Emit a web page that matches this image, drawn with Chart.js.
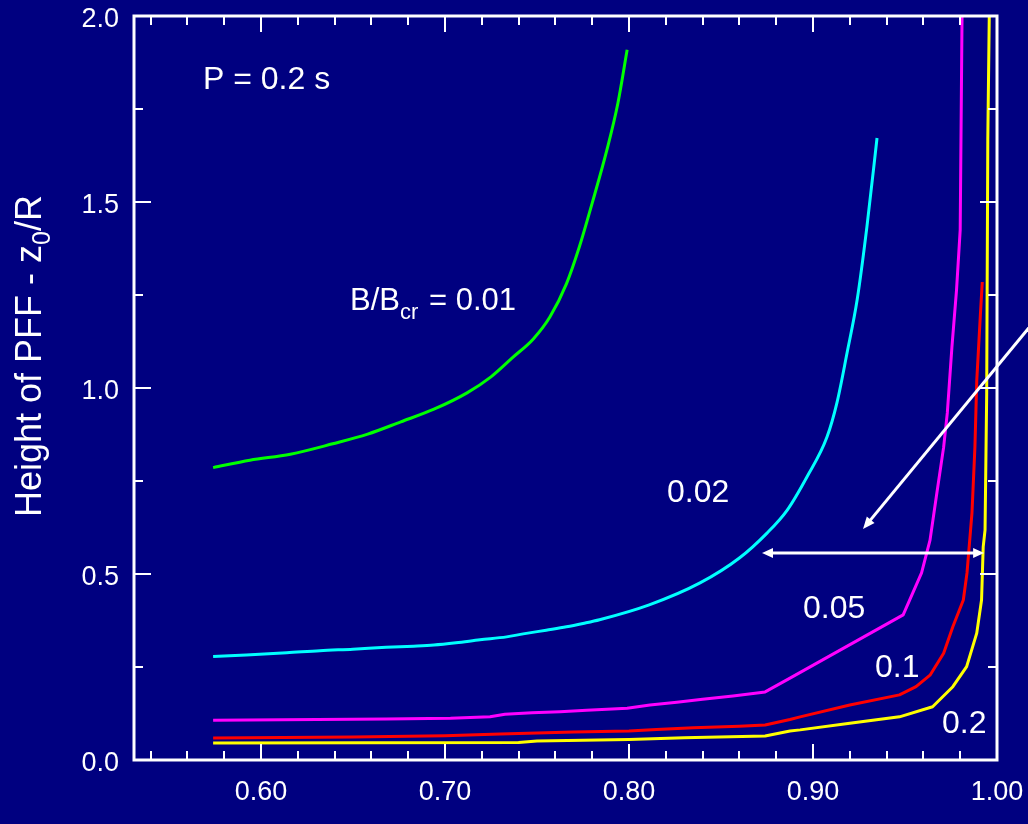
<!DOCTYPE html>
<html>
<head>
<meta charset="utf-8">
<script src="https://cdn.jsdelivr.net/npm/chart.js@4/dist/chart.umd.min.js"></script>
<style>
html,body{margin:0;padding:0;background:#000080;overflow:hidden;}
#wrap{width:1028px;height:824px;}
canvas{display:block;}
</style>
</head>
<body>
<div id="wrap"><canvas id="c" width="1028" height="824"></canvas></div>
<script>
// ---- axis ranges & ticks ----
const xRange = [0.531, 1.0];
const yRange = [0, 2.0];
const xMajorTicks = [0.60, 0.70, 0.80, 0.90, 1.00];
const xMinorTicks = [0.54, 0.56, 0.58, 0.62, 0.64, 0.66, 0.68, 0.72, 0.74, 0.76, 0.78, 0.82, 0.84, 0.86, 0.88, 0.92, 0.94, 0.96, 0.98];
const yMajorTicks = [0.0, 0.5, 1.0, 1.5, 2.0];
const yMinorTicks = [0.25, 0.75, 1.25, 1.75];

// ---- series: B/Bcr = 0.01 (green) ----
const b001X = [0.574, 0.594, 0.616, 0.639, 0.658, 0.676, 0.694, 0.712, 0.725, 0.737, 0.748, 0.757, 0.766, 0.773, 0.780, 0.788, 0.794, 0.799];
const b001Y = [0.786, 0.806, 0.822, 0.850, 0.876, 0.909, 0.943, 0.987, 1.030, 1.083, 1.132, 1.191, 1.280, 1.379, 1.497, 1.640, 1.766, 1.909];

// ---- series: B/Bcr = 0.02 (cyan) ----
const b002X = [0.574, 0.592, 0.614, 0.632, 0.650, 0.668, 0.683, 0.694, 0.706, 0.719, 0.7335, 0.7425, 0.755, 0.766, 0.775, 0.784, 0.811, 0.8386, 0.860, 0.875, 0.886, 0.8967, 0.9076, 0.913, 0.9185, 0.924, 0.9293, 0.9348];
const b002Y = [0.278, 0.282, 0.288, 0.294, 0.298, 0.303, 0.306, 0.309, 0.315, 0.323, 0.331, 0.339, 0.349, 0.358, 0.367, 0.377, 0.417, 0.476, 0.543, 0.610, 0.672, 0.761, 0.868, 0.960, 1.094, 1.237, 1.433, 1.672];

// ---- series: B/Bcr = 0.05 (magenta) ----
const b005X = [0.574, 0.668, 0.703, 0.7245, 0.7326, 0.7473, 0.7625, 0.777, 0.799, 0.8114, 0.826, 0.840, 0.8565, 0.874, 0.8875, 0.949, 0.959, 0.9636, 0.967, 0.971, 0.973, 0.9755, 0.978, 0.980, 0.981];
const b005Y = [0.107, 0.110, 0.112, 0.116, 0.123, 0.127, 0.130, 0.134, 0.139, 0.148, 0.155, 0.163, 0.172, 0.183, 0.220, 0.390, 0.503, 0.591, 0.707, 0.841, 0.933, 1.110, 1.263, 1.425, 2.0];

// ---- series: B/Bcr = 0.1 (red) ----
const b01X = [0.574, 0.650, 0.700, 0.730, 0.770, 0.800, 0.815, 0.835, 0.860, 0.874, 0.8875, 0.893, 0.920, 0.947, 0.956, 0.9636, 0.971, 0.976, 0.9817, 0.9837, 0.9864, 0.988, 0.989, 0.991, 0.992];
const b01Y = [0.059, 0.062, 0.065, 0.070, 0.075, 0.078, 0.082, 0.087, 0.091, 0.094, 0.109, 0.116, 0.148, 0.175, 0.197, 0.228, 0.287, 0.358, 0.430, 0.503, 0.664, 0.841, 1.020, 1.200, 1.285];

// ---- series: B/Bcr = 0.2 (yellow) ----
const b02X = [0.574, 0.740, 0.750, 0.800, 0.830, 0.874, 0.8875, 0.893, 0.920, 0.947, 0.965, 0.976, 0.9835, 0.989, 0.9916, 0.9925, 0.9935, 0.9944, 0.9950, 0.9958];
const b02Y = [0.046, 0.047, 0.051, 0.055, 0.060, 0.0645, 0.078, 0.081, 0.099, 0.116, 0.143, 0.197, 0.251, 0.341, 0.430, 0.573, 0.618, 0.986, 1.667, 2.0];

const seriesNames = ['0.01', '0.02', '0.05', '0.1', '0.2'];
const seriesColors = ['#00ff00', '#00ffff', '#ff00ff', '#ff0000', '#ffff00'];
const seriesSmooth = [true, true, false, false, false];

// ---- annotations (data coordinates) ----
const labelTexts = ['0.02', '0.05', '0.1', '0.2'];
const labelX = [0.8207, 0.8946, 0.9337, 0.9701];
const labelY = [0.6935, 0.3817, 0.2231, 0.0726];
const periodText = 'P = 0.2 s';
const periodPos = [0.5685, 1.804];
const firstLabelPos = [0.6484, 1.2097];
const hArrowX = [0.8723, 0.993];
const hArrowY = 0.5565;
const dArrowTail = [1.025, 1.208];
const dArrowHead = [0.9272, 0.621];

const FONT = '"Liberation Sans", Arial, Helvetica, sans-serif';

function pts(xs, ys) { return xs.map((x, i) => ({ x: x, y: ys[i] })); }

const allX = [b001X, b002X, b005X, b01X, b02X];
const allY = [b001Y, b002Y, b005Y, b01Y, b02Y];

const datasets = seriesNames.map((n, i) => ({
  label: 'B/Bcr = ' + n,
  data: pts(allX[i], allY[i]),
  borderColor: seriesColors[i],
  backgroundColor: seriesColors[i],
  borderWidth: 3,
  pointRadius: 0,
  showLine: true,
  tension: 0,
  cubicInterpolationMode: seriesSmooth[i] ? 'monotone' : 'default',
  borderJoinStyle: 'round',
  fill: false
}));

function arrowHead(ctx, x1, y1, x2, y2, len, half) {
  const a = Math.atan2(y2 - y1, x2 - x1);
  ctx.beginPath();
  ctx.moveTo(x2, y2);
  ctx.lineTo(x2 - len * Math.cos(a) + half * Math.sin(a), y2 - len * Math.sin(a) - half * Math.cos(a));
  ctx.lineTo(x2 - len * Math.cos(a) - half * Math.sin(a), y2 - len * Math.sin(a) + half * Math.cos(a));
  ctx.closePath();
  ctx.fill();
}

const framePlugin = {
  id: 'frame',
  afterLayout(chart) {
    const ys = chart.scales.y;
    if (!ys._shifted) {
      const orig = ys.drawLabels;
      ys.drawLabels = function (area) {
        const c = this.ctx; c.save(); c.translate(0, 4); orig.call(this, area); c.restore();
      };
      ys._shifted = true;
    }
  },
  afterDraw(chart) {
    const ctx = chart.ctx, a = chart.chartArea, xs = chart.scales.x, ys = chart.scales.y;
    ctx.save();
    ctx.strokeStyle = '#ffffff';
    ctx.fillStyle = '#ffffff';
    // ticks
    ctx.lineWidth = 2;
    ctx.beginPath();
    const tick = (v, len, horiz) => {
      if (horiz) {
        const p = Math.round(xs.getPixelForValue(v));
        ctx.moveTo(p, a.bottom); ctx.lineTo(p, a.bottom - len);
        ctx.moveTo(p, a.top); ctx.lineTo(p, a.top + len);
      } else {
        const p = Math.round(ys.getPixelForValue(v));
        ctx.moveTo(a.left, p); ctx.lineTo(a.left + len, p);
        ctx.moveTo(a.right, p); ctx.lineTo(a.right - len, p);
      }
    };
    xMajorTicks.forEach(v => tick(v, 16, true));
    xMinorTicks.forEach(v => tick(v, 9, true));
    yMajorTicks.forEach(v => tick(v, 17, false));
    yMinorTicks.forEach(v => tick(v, 9, false));
    ctx.stroke();
    // frame
    ctx.lineWidth = 3;
    ctx.strokeRect(a.left, a.top, a.right - a.left, a.bottom - a.top);

    // arrows
    ctx.lineWidth = 3;
    const hx1 = xs.getPixelForValue(hArrowX[0]), hx2 = xs.getPixelForValue(hArrowX[1]);
    const hy = ys.getPixelForValue(hArrowY);
    ctx.beginPath(); ctx.moveTo(hx1 + 6, hy); ctx.lineTo(hx2 - 6, hy); ctx.stroke();
    arrowHead(ctx, hx2, hy, hx1, hy, 11, 5);
    arrowHead(ctx, hx1, hy, hx2, hy, 11, 5);
    const tx = xs.getPixelForValue(dArrowTail[0]), ty = ys.getPixelForValue(dArrowTail[1]);
    const dx = xs.getPixelForValue(dArrowHead[0]), dy = ys.getPixelForValue(dArrowHead[1]);
    const ang = Math.atan2(dy - ty, dx - tx);
    ctx.beginPath(); ctx.moveTo(tx, ty); ctx.lineTo(dx - 6 * Math.cos(ang), dy - 6 * Math.sin(ang)); ctx.stroke();
    arrowHead(ctx, tx, ty, dx, dy, 12, 5);

    // texts
    ctx.textBaseline = 'alphabetic';
    ctx.textAlign = 'left';
    ctx.font = '32px ' + FONT;
    ctx.fillText(periodText, xs.getPixelForValue(periodPos[0]), ys.getPixelForValue(periodPos[1]));
    labelTexts.forEach((t, i) => {
      ctx.fillText(t, xs.getPixelForValue(labelX[i]), ys.getPixelForValue(labelY[i]));
    });
    // B/Bcr = 0.01 with subscript
    let bx = xs.getPixelForValue(firstLabelPos[0]);
    const by = ys.getPixelForValue(firstLabelPos[1]);
    ctx.font = '31px ' + FONT;
    ctx.fillText('B/B', bx, by); bx += ctx.measureText('B/B').width;
    ctx.font = '22px ' + FONT;
    ctx.fillText('cr', bx, by + 9); bx += ctx.measureText('cr').width + 2;
    ctx.font = '31px ' + FONT;
    ctx.fillText(' = ' + seriesNames[0], bx, by);

    // y-axis title with subscript
    ctx.translate(41, 517);
    ctx.rotate(-Math.PI / 2);
    let ox = 0;
    ctx.font = '36px ' + FONT;
    ctx.fillText('Height of PFF - z', ox, 0); ox += ctx.measureText('Height of PFF - z').width;
    ctx.font = '25px ' + FONT;
    ctx.fillText('0', ox, 9); ox += ctx.measureText('0').width;
    ctx.font = '36px ' + FONT;
    ctx.fillText('/R', ox, 0);
    ctx.restore();
  }
};

new Chart(document.getElementById('c'), {
  type: 'scatter',
  data: { datasets: datasets },
  options: {
    responsive: false,
    animation: false,
    devicePixelRatio: 1,
    layout: { padding: { left: 0, right: 31, top: 16, bottom: 0 } },
    plugins: { legend: { display: false }, tooltip: { enabled: false } },
    scales: {
      x: {
        type: 'linear',
        min: xRange[0], max: xRange[1],
        afterBuildTicks: s => { s.ticks = xMajorTicks.map(v => ({ value: v })); },
        afterFit: s => { s.height = 64; s.paddingLeft = 0; s.paddingRight = 0; },
        grid: { display: false, drawTicks: false },
        border: { display: false },
        ticks: {
          color: '#ffffff', padding: 16, maxRotation: 0, autoSkip: false,
          font: { family: FONT, size: 27 },
          callback: v => Number(v).toFixed(2)
        }
      },
      y: {
        type: 'linear',
        min: yRange[0], max: yRange[1],
        afterBuildTicks: s => { s.ticks = yMajorTicks.map(v => ({ value: v })); },
        afterFit: s => { s.width = 134; s.paddingTop = 0; s.paddingBottom = 0; },
        grid: { display: false, drawTicks: false },
        border: { display: false },
        ticks: {
          color: '#ffffff', padding: 15, autoSkip: false,
          font: { family: FONT, size: 27 },
          callback: v => Number(v).toFixed(1)
        }
      }
    }
  },
  plugins: [framePlugin]
});
</script>
</body>
</html>
